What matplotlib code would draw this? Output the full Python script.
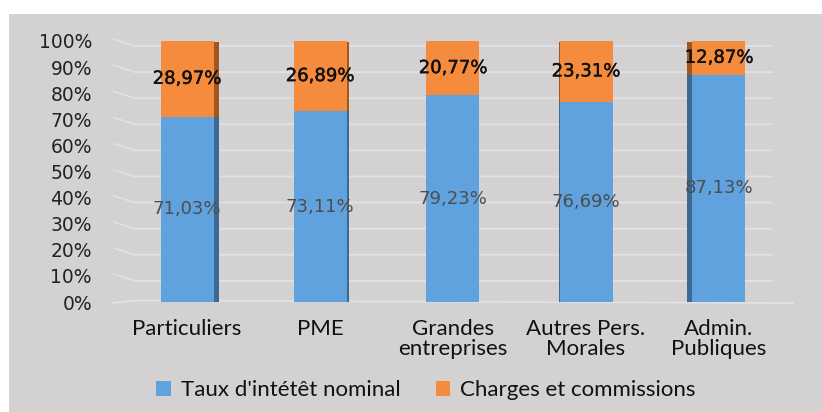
import matplotlib
matplotlib.use("Agg")
import matplotlib.pyplot as plt
from matplotlib.patches import Rectangle, Patch
import matplotlib.patheffects as pe

categories = ["Particuliers", "PME", "Grandes\nentreprises", "Autres Pers.\nMorales", "Admin.\nPubliques"]
taux = [71.03, 73.11, 79.23, 76.69, 87.13]
charges = [28.97, 26.89, 20.77, 23.31, 12.87]
yticks = [0, 10, 20, 30, 40, 50, 60, 70, 80, 90, 100]
series_names = ["Taux d'intétêt nominal", "Charges et commissions"]

BLUE = "#5fa2de"
ORANGE = "#f58b3c"
BLUE_D = "#3a6a93"
ORANGE_D = "#a0561f"
BG = "#d3d1d2"
GRID = "#e2e0e1"

W, H = 822, 412
fig = plt.figure(figsize=(W / 100, H / 100), dpi=100)
fig.patch.set_facecolor("white")
fig.patches.append(Rectangle((9 / W, 0), 1 - 9 / W, (H - 14) / H,
                             transform=fig.transFigure, facecolor=BG,
                             edgecolor="none", zorder=-10))

# axes: pixel x 110..800, y 41 (100%) .. 302 (0%)
px_per_cat = 133.0
x0 = -(187 - 110) / px_per_cat
x1 = 4 + (800 - 719) / px_per_cat
ax = fig.add_axes([110 / W, (H - 302) / H, 690 / W, 261 / H])
ax.set_zorder(1)
ax.set_facecolor("none")
ax.set_xlim(x0, x1)
ax.set_ylim(0, 100)
for s in ax.spines.values():
    s.set_visible(False)

def px2x(p):
    return x0 + (p - 110) / px_per_cat

pct_per_px = 100 / 261.0
# gridlines (back wall, slightly lower) with slanted left part
for v in yticks[1:]:
    yoff = v - 5 * pct_per_px
    ax.plot([px2x(113), px2x(135), px2x(773)], [v + 2 * pct_per_px, yoff, yoff],
            color=GRID, lw=1.3, zorder=1, clip_on=False, solid_capstyle="butt")
# floor
ax.plot([px2x(113), px2x(135), px2x(793)], [-1 * pct_per_px, 1.5 * pct_per_px, -1 * pct_per_px],
        color=GRID, lw=1.3, zorder=1, clip_on=False)

xs = list(range(len(categories)))
bw = 53 / px_per_cat
ax.bar(xs, taux, width=bw, color=BLUE, zorder=3)
ax.bar(xs, charges, bottom=taux, width=bw, color=ORANGE, zorder=3)

# pseudo-3D side faces
side = [5, 2, 0, -1, -5]
for i, sp in enumerate(side):
    if sp == 0:
        continue
    w = abs(sp) / px_per_cat
    xl = i + bw / 2 if sp > 0 else i - bw / 2 - w
    ax.add_patch(Rectangle((xl, 0), w, taux[i], facecolor=BLUE_D, edgecolor="none", zorder=3))
    ax.add_patch(Rectangle((xl, taux[i]), w, charges[i] - 0.3, facecolor=ORANGE_D, edgecolor="none", zorder=3))

def fmt(v):
    return f"{v:.2f}%".replace(".", ",")

thick = [pe.withStroke(linewidth=0.3, foreground="#111111")]
for i in xs:
    ax.text(i, taux[i] / 2, fmt(taux[i]), ha="center", va="center",
            fontsize=13, color="#4d4d4d", zorder=5)
    ax.text(i, taux[i] + charges[i] / 2, fmt(charges[i]), ha="center", va="center",
            fontsize=13, color="#111111", zorder=5, path_effects=thick)

ax.set_yticks(yticks)
ax.set_yticklabels([f"{v}%" for v in yticks], fontsize=13.5, color="#222222")
ax.tick_params(axis="y", length=0, pad=13)
ax.set_xticks(xs)
ax.set_xticklabels(categories, fontsize=16, color="#111111", family="Lato",
                   linespacing=1.0, va="top")
ax.tick_params(axis="x", length=0, pad=12)

handles = [Patch(facecolor=BLUE, edgecolor="none"), Patch(facecolor=ORANGE, edgecolor="none")]
fig.legend(handles, series_names, loc="center", bbox_to_anchor=(426 / W, 1 - 390 / H),
           ncol=2, frameon=False, prop={"family": "Lato", "size": 16},
           handlelength=0.65, handleheight=0.65, handletextpad=0.45, columnspacing=1.6,
           labelcolor="#111111")

fig.savefig("out.png", dpi=100)
